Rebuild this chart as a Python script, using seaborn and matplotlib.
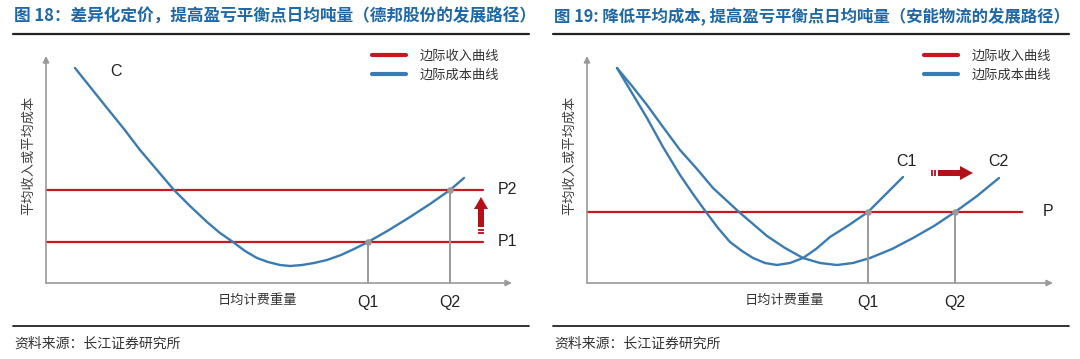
import matplotlib
matplotlib.use("Agg")
import matplotlib.pyplot as plt
from matplotlib.lines import Line2D
import seaborn as sns
import pandas as pd

# ---------------- data (arbitrary units, origin at the axes corner) ----------------
# Left panel: differentiated pricing (Deppon)
left_q = [29, 45, 61, 78, 94, 111, 128, 144, 161, 174, 187, 199, 211, 222, 234, 244,
          256, 268, 281, 295, 308, 322, 343, 364, 384, 404, 418]
left_cost = [215, 195, 175, 154, 133, 113, 93, 77, 61, 50, 41, 32, 25, 21, 18, 17,
             18, 20, 23, 28, 34, 41, 53, 66, 79, 93, 105]
left_prices = [41, 93]
left_price_labels = ["P1", "P2"]
left_qs = [322, 404]
left_q_labels = ["Q1", "Q2"]

# Right panel: lower average cost (ANE)
right_q1 = [30, 45, 60, 76, 93, 106, 119, 131, 143, 155, 166, 178, 190, 203, 216, 229,
            243, 262, 281, 298, 316]
right_cost1 = [215, 190, 165, 136, 108, 89, 71, 55, 41, 32, 25, 20, 18, 20, 25, 34,
               46, 58, 71, 88, 106]
right_q2 = [30, 45, 60, 76, 93, 110, 126, 139, 152, 166, 180, 198, 216, 233, 250, 266,
            283, 305, 326, 347, 368, 390, 412]
right_cost2 = [215, 197, 178, 156, 133, 114, 95, 83, 71, 59, 47, 35, 25, 20, 18, 20,
               25, 34, 45, 57, 71, 87, 105]
right_price = 71
right_qs = [281, 368]
right_q_labels = ["Q1", "Q2"]

titles = ["图 18：差异化定价，提高盈亏平衡点日均吨量（德邦股份的发展路径）",
          "图 19: 降低平均成本, 提高盈亏平衡点日均吨量（安能物流的发展路径）"]
legend_labels = ["边际收入曲线", "边际成本曲线"]
xlabel = "日均计费重量"
ylabel = "平均收入或平均成本"
source = "资料来源：长江证券研究所"

# ---------------- style ----------------
sns.set_theme(style="white")
plt.rcParams["font.family"] = ["Noto Sans CJK SC", "DejaVu Sans"]
RED = "#c8171f"
BLUE = "#3a7bb4"
GRAY = "#9a9a9a"
ARROW_RED = "#b3101a"
TITLE = "#1f68a8"
LAT = ["Liberation Sans", "DejaVu Sans"]

W, H = 1080, 359
fig = plt.figure(figsize=(W / 100, H / 100), dpi=100)


def fx(px):
    return px / W


def fy(py):
    return 1 - py / H


def make_ax(left_px, ox, oy):
    ax = fig.add_axes([fx(left_px), 0, 540 / W, 1])
    ax.set_xlim(left_px - ox, left_px + 540 - ox)
    ax.set_ylim(oy - H, oy)
    ax.axis("off")
    # axes with arrows
    ax.annotate("", xy=(0, 227), xytext=(0, 0),
                arrowprops=dict(arrowstyle="-|>", color=GRAY, lw=1.2, mutation_scale=9,
                                shrinkA=0, shrinkB=0))
    ax.annotate("", xy=(466, 0), xytext=(0, 0),
                arrowprops=dict(arrowstyle="-|>", color=GRAY, lw=1.2, mutation_scale=9,
                                shrinkA=0, shrinkB=0))
    ax.text(-17, 128, ylabel, rotation=90, ha="center", va="center", fontsize=9.5, color="#404040")
    leg = ax.legend(handles=[Line2D([], [], color=RED, lw=3), Line2D([], [], color=BLUE, lw=3)],
                    labels=legend_labels, loc="upper left", frameon=False, fontsize=9.5,
                    handlelength=2.6, handletextpad=1.0, labelspacing=0.45, borderpad=0,
                    borderaxespad=0, bbox_to_anchor=(326 if left_px == 0 else 337, 233),
                    bbox_transform=ax.transData)
    for t in leg.get_texts():
        t.set_color("#333333")
    return ax


# ---------------- left panel ----------------
axL = make_ax(0, 46, 283)
for p, lab in zip(left_prices, left_price_labels):
    sns.lineplot(x=[0, 437], y=[p, p], ax=axL, color=RED, lw=1.6)
    axL.text(452, p, lab, ha="left", va="center", fontsize=11.5, family=LAT, color="#222222")
sns.lineplot(data=pd.DataFrame({"q": left_q, "c": left_cost}), x="q", y="c", ax=axL,
             color=BLUE, lw=1.7)
for q, p, lab in zip(left_qs, left_prices, left_q_labels):
    axL.plot([q, q], [0, p], color=GRAY, lw=1.4)
    axL.scatter([q], [p], s=14, color=GRAY, zorder=5)
    axL.text(q, -20, lab, ha="center", va="center", fontsize=11.5, family=LAT, color="#222222")
axL.text(70, 211, "C", ha="center", va="center", fontsize=11.5, family=LAT, color="#222222")
axL.text(211, -17, xlabel, ha="center", va="center", fontsize=9.5, color="#333333")
axL.arrow(435, 56, 0, 30, width=6, head_width=14, head_length=12, length_includes_head=True,
          color=ARROW_RED, lw=0)
axL.hlines([50.5, 53.3], 432, 438, color=ARROW_RED, lw=1.3)

# ---------------- right panel ----------------
axR = make_ax(540, 587, 283)
sns.lineplot(x=[0, 435], y=[right_price, right_price], ax=axR, color=RED, lw=1.6)
axR.text(456, right_price, "P", ha="left", va="center", fontsize=11.5, family=LAT, color="#222222")
sns.lineplot(data=pd.DataFrame({"q": right_q1, "c": right_cost1}), x="q", y="c", ax=axR,
             color=BLUE, lw=1.7)
sns.lineplot(data=pd.DataFrame({"q": right_q2, "c": right_cost2}), x="q", y="c", ax=axR,
             color=BLUE, lw=1.7)
for q, lab in zip(right_qs, right_q_labels):
    axR.plot([q, q], [0, right_price], color=GRAY, lw=1.4)
    axR.scatter([q], [right_price], s=14, color=GRAY, zorder=5)
    axR.text(q, -20, lab, ha="center", va="center", fontsize=11.5, family=LAT, color="#222222")
axR.text(319, 122, "C1", ha="center", va="center", fontsize=11.5, family=LAT, color="#222222")
axR.text(411, 122, "C2", ha="center", va="center", fontsize=11.5, family=LAT, color="#222222")
axR.text(197, -17, xlabel, ha="center", va="center", fontsize=9.5, color="#333333")
axR.arrow(351, 110, 35, 0, width=6, head_width=14, head_length=13, length_includes_head=True,
          color=ARROW_RED, lw=0)
axR.vlines([344.5, 347.5], 107, 113, color=ARROW_RED, lw=1.3)

# ---------------- titles, rules, sources ----------------
for x0, x1, t, fs in [(13, 529, titles[0], 12), (553, 1069, titles[1], 11.8)]:
    fig.text(fx(x0 + 1), fy(17), t, ha="left", va="center", fontsize=fs,
             fontweight="bold", color=TITLE)
    fig.add_artist(Line2D([fx(x0), fx(x1)], [fy(34), fy(34)], color="#222222", lw=1.6))
    fig.add_artist(Line2D([fx(x0), fx(x1)], [fy(326), fy(326)], color="#222222", lw=1.3))
    fig.text(fx(x0 + 1), fy(344), source, ha="left", va="center", fontsize=10, color="#333333")

fig.savefig("out.png", dpi=100)
